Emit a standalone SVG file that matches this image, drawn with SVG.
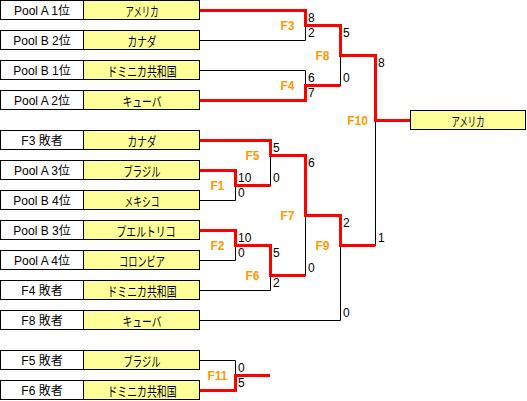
<svg xmlns="http://www.w3.org/2000/svg" width="527" height="401" viewBox="0 0 527 401">
<style>
.bg{fill:#fff}
.lb{fill:#fff;stroke:#000;stroke-width:1}
.tb{fill:#ffff99;stroke:#000;stroke-width:1}
.lt{font-family:"Liberation Sans","Noto Sans CJK JP",sans-serif;font-size:12px;fill:#000;text-anchor:middle}
.jt{font-family:"Noto Sans CJK JP","Liberation Sans",sans-serif;font-size:13px;fill:#000}
.blk{fill:none;stroke:#000;stroke-width:1}
.red{fill:none;stroke:#ff0000;stroke-width:3;stroke-linejoin:miter;stroke-linecap:butt}
.sc{font-family:"Liberation Sans",sans-serif;font-size:12px;fill:#000}
.rl{font-family:"Liberation Sans",sans-serif;font-size:12px;font-weight:bold;fill:#ff9900;text-anchor:middle}
</style>
<rect class="bg" x="0" y="0" width="527" height="401"/>
<g id="connectors">
<path class="blk" d="M200 40.5H305.5V25"/>
<path class="blk" d="M200 70.5H305.5V86"/>
<path class="blk" d="M340.5 55V86"/>
<path class="blk" d="M375.5 120V246"/>
<path class="blk" d="M200 200.5H235.5V185"/>
<path class="blk" d="M270.5 155V186"/>
<path class="blk" d="M200 260.5H235.5V245"/>
<path class="blk" d="M200 290.5H270.5V275"/>
<path class="blk" d="M305.5 215V276"/>
<path class="blk" d="M200 320.5H340.5V245"/>
<path class="blk" d="M200 360.5H235.5V376"/>
<path class="red" d="M200 10.5H305.5V25.5H340.5V55.5H375.5V120.5H410"/>
<path class="red" d="M200 100.5H305.5V85.5H340.5"/>
<path class="red" d="M200 140.5H270.5V155.5H305.5V215.5H340.5V245.5H375.5"/>
<path class="red" d="M200 170.5H235.5V185.5H270.5"/>
<path class="red" d="M200 230.5H235.5V245.5H270.5V275.5H305.5"/>
<path class="red" d="M200 390.5H235.5V375.5H270"/>
</g>
<g id="scores">
<text class="sc" x="308" y="21.5">8</text>
<text class="sc" x="308" y="36.5">2</text>
<text class="sc" x="308" y="81.5">6</text>
<text class="sc" x="308" y="96.5">7</text>
<text class="sc" x="343" y="36.5">5</text>
<text class="sc" x="343" y="81.5">0</text>
<text class="sc" x="378" y="66.5">8</text>
<text class="sc" x="378" y="241.5">1</text>
<text class="sc" x="238" y="181.5">10</text>
<text class="sc" x="238" y="196.5">0</text>
<text class="sc" x="273" y="151.5">5</text>
<text class="sc" x="273" y="181.5">0</text>
<text class="sc" x="238" y="241.5">10</text>
<text class="sc" x="238" y="256.5">0</text>
<text class="sc" x="273" y="256.5">5</text>
<text class="sc" x="273" y="286.5">2</text>
<text class="sc" x="308" y="166.5">6</text>
<text class="sc" x="308" y="271.5">0</text>
<text class="sc" x="343" y="226.5">2</text>
<text class="sc" x="343" y="316.5">0</text>
<text class="sc" x="238" y="371.5">0</text>
<text class="sc" x="238" y="386.5">5</text>
</g>
<g id="rounds">
<text class="rl" x="287.5" y="29.5">F3</text>
<text class="rl" x="287.5" y="89.5">F4</text>
<text class="rl" x="322.5" y="59.5">F8</text>
<text class="rl" x="357.5" y="124.5">F10</text>
<text class="rl" x="252.5" y="159.5">F5</text>
<text class="rl" x="217.5" y="189.5">F1</text>
<text class="rl" x="287.5" y="219.5">F7</text>
<text class="rl" x="322.5" y="249.5">F9</text>
<text class="rl" x="217.5" y="249.5">F2</text>
<text class="rl" x="252.5" y="279.5">F6</text>
<text class="rl" x="217.5" y="379.5">F11</text>
</g>
<g id="n1"><rect class="lb" x="0.5" y="0.5" width="83" height="19"/><rect class="tb" x="83.5" y="0.5" width="116" height="19"/><text class="lt" x="42" y="15">Pool A 1位</text><text class="jt" x="125.5" y="15.5" textLength="33" lengthAdjust="spacingAndGlyphs">アメリカ</text></g>
<g id="n2"><rect class="lb" x="0.5" y="30.5" width="83" height="19"/><rect class="tb" x="83.5" y="30.5" width="116" height="19"/><text class="lt" x="42" y="45">Pool B 2位</text><text class="jt" x="127.5" y="45.5" textLength="29" lengthAdjust="spacingAndGlyphs">カナダ</text></g>
<g id="n3"><rect class="lb" x="0.5" y="60.5" width="83" height="19"/><rect class="tb" x="83.5" y="60.5" width="116" height="19"/><text class="lt" x="42" y="75">Pool B 1位</text><text class="jt" x="107.5" y="75.5" textLength="69" lengthAdjust="spacingAndGlyphs">ドミニカ共和国</text></g>
<g id="n4"><rect class="lb" x="0.5" y="90.5" width="83" height="19"/><rect class="tb" x="83.5" y="90.5" width="116" height="19"/><text class="lt" x="42" y="105">Pool A 2位</text><text class="jt" x="122.5" y="105.5" textLength="39" lengthAdjust="spacingAndGlyphs">キューバ</text></g>
<g id="n5"><rect class="lb" x="0.5" y="130.5" width="83" height="19"/><rect class="tb" x="83.5" y="130.5" width="116" height="19"/><text class="lt" x="42" y="145">F3 敗者</text><text class="jt" x="127.5" y="145.5" textLength="29" lengthAdjust="spacingAndGlyphs">カナダ</text></g>
<g id="n6"><rect class="lb" x="0.5" y="160.5" width="83" height="19"/><rect class="tb" x="83.5" y="160.5" width="116" height="19"/><text class="lt" x="42" y="175">Pool A 3位</text><text class="jt" x="123.5" y="175.5" textLength="37" lengthAdjust="spacingAndGlyphs">ブラジル</text></g>
<g id="n7"><rect class="lb" x="0.5" y="190.5" width="83" height="19"/><rect class="tb" x="83.5" y="190.5" width="116" height="19"/><text class="lt" x="42" y="205">Pool B 4位</text><text class="jt" x="124.5" y="205.5" textLength="35" lengthAdjust="spacingAndGlyphs">メキシコ</text></g>
<g id="n8"><rect class="lb" x="0.5" y="220.5" width="83" height="19"/><rect class="tb" x="83.5" y="220.5" width="116" height="19"/><text class="lt" x="42" y="235">Pool B 3位</text><text class="jt" x="116.5" y="235.5" textLength="59" lengthAdjust="spacingAndGlyphs">プエルトリコ</text></g>
<g id="n9"><rect class="lb" x="0.5" y="250.5" width="83" height="19"/><rect class="tb" x="83.5" y="250.5" width="116" height="19"/><text class="lt" x="42" y="265">Pool A 4位</text><text class="jt" x="119" y="265.5" textLength="46" lengthAdjust="spacingAndGlyphs">コロンビア</text></g>
<g id="n10"><rect class="lb" x="0.5" y="280.5" width="83" height="19"/><rect class="tb" x="83.5" y="280.5" width="116" height="19"/><text class="lt" x="42" y="295">F4 敗者</text><text class="jt" x="107.5" y="295.5" textLength="69" lengthAdjust="spacingAndGlyphs">ドミニカ共和国</text></g>
<g id="n11"><rect class="lb" x="0.5" y="310.5" width="83" height="19"/><rect class="tb" x="83.5" y="310.5" width="116" height="19"/><text class="lt" x="42" y="325">F8 敗者</text><text class="jt" x="122.5" y="325.5" textLength="39" lengthAdjust="spacingAndGlyphs">キューバ</text></g>
<g id="n12"><rect class="lb" x="0.5" y="350.5" width="83" height="19"/><rect class="tb" x="83.5" y="350.5" width="116" height="19"/><text class="lt" x="42" y="365">F5 敗者</text><text class="jt" x="123.5" y="365.5" textLength="37" lengthAdjust="spacingAndGlyphs">ブラジル</text></g>
<g id="n13"><rect class="lb" x="0.5" y="380.5" width="83" height="19"/><rect class="tb" x="83.5" y="380.5" width="116" height="19"/><text class="lt" x="42" y="395">F6 敗者</text><text class="jt" x="107.5" y="395.5" textLength="69" lengthAdjust="spacingAndGlyphs">ドミニカ共和国</text></g>
<g id="winner"><rect class="tb" x="410.5" y="110.5" width="115" height="19"/><text class="jt" x="451.5" y="125.5" textLength="33" lengthAdjust="spacingAndGlyphs">アメリカ</text></g>
</svg>
